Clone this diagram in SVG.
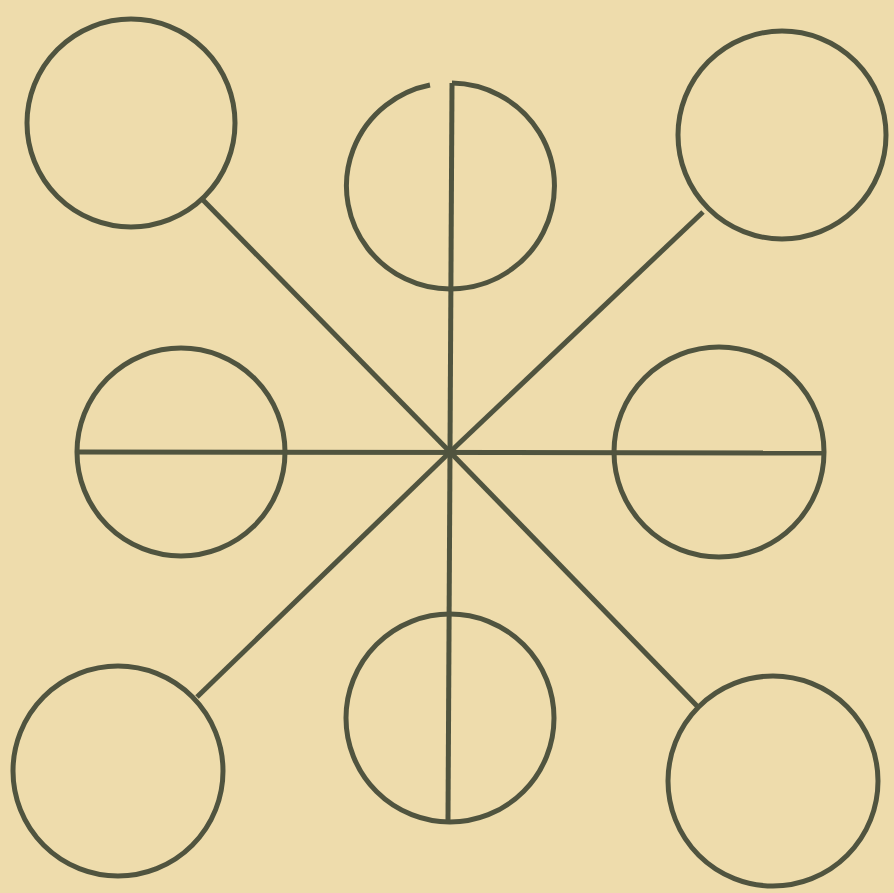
<svg xmlns="http://www.w3.org/2000/svg" width="894" height="893" viewBox="0 0 894 893">
<style>
.c{fill:none;stroke:#50543f;stroke-width:5}
.l{fill:none;stroke:#50543f;stroke-width:5;stroke-linecap:butt}
</style>
<rect width="894" height="893" fill="#eedcac"/>
<g id="connectors">
<line class="l" x1="452" y1="83" x2="448" y2="820"/>
<line class="l" x1="78" y1="452" x2="826" y2="453"/>
<line class="l" x1="203" y1="200" x2="450" y2="452"/>
<line class="l" x1="703" y1="212" x2="450" y2="452"/>
<line class="l" x1="197" y1="697" x2="450" y2="452"/>
<line class="l" x1="698" y1="707" x2="450" y2="452"/>
</g>
<g id="n-top-left"><circle class="c" cx="131" cy="123" r="104"/></g>
<g id="n-top"><path class="c" d="M452 83 A104 103 0 1 1 430 85"/></g>
<g id="n-top-right"><circle class="c" cx="782" cy="135" r="104"/></g>
<g id="n-left"><circle class="c" cx="181" cy="452" r="104"/></g>
<g id="n-right"><circle class="c" cx="719" cy="452" r="105"/></g>
<g id="n-bottom-left"><circle class="c" cx="118" cy="771" r="105"/></g>
<g id="n-bottom"><circle class="c" cx="450" cy="718" r="104"/></g>
<g id="n-bottom-right"><circle class="c" cx="773" cy="781" r="105"/></g>
</svg>
